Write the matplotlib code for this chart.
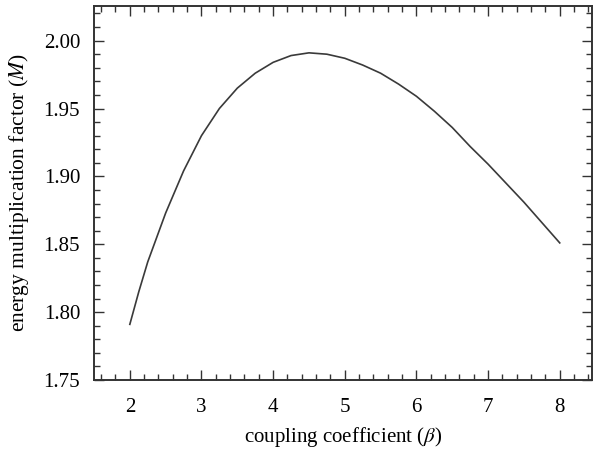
import numpy as np
import matplotlib
matplotlib.use("Agg")
import matplotlib.pyplot as plt
from matplotlib.ticker import MultipleLocator

# values
beta = [2.00, 2.125, 2.25, 2.50, 2.75, 3.00, 3.25, 3.50, 3.75, 4.00, 4.25, 4.50, 4.75,
        5.00, 5.25, 5.50, 5.75, 6.00, 6.25, 6.50, 6.75, 7.00, 7.25, 7.50, 7.75, 8.00]
M = [1.791, 1.815, 1.837, 1.873, 1.904, 1.930, 1.950, 1.965, 1.976, 1.984, 1.989,
     1.991, 1.990, 1.987, 1.982, 1.976, 1.968, 1.959, 1.948, 1.936, 1.922, 1.909,
     1.895, 1.881, 1.866, 1.851]

def main():
    plt.rcParams['font.family'] = ['Liberation Serif', 'DejaVu Serif']
    plt.rcParams['mathtext.fontset'] = 'stix'

    fig = plt.figure(figsize=(6.01, 4.55), dpi=100)
    ax = fig.add_axes([0.1564, 0.1648, 0.985 - 0.1564, 0.9868 - 0.1648])

    ax.plot(beta, M, color='#3a3a3a', lw=1.2, solid_joinstyle='round')

    ax.set_xlim(1.5, 8.45)
    ax.set_ylim(1.75, 2.0255)
    yt = [1.75, 1.80, 1.85, 1.90, 1.95, 2.00]
    ax.set_xticks([2, 3, 4, 5, 6, 7, 8])
    ax.set_yticks(yt)
    ax.set_yticklabels(["%.2f" % v for v in yt])
    ax.xaxis.set_minor_locator(MultipleLocator(0.2))
    ax.yaxis.set_minor_locator(MultipleLocator(0.01))
    ax.tick_params(which='both', direction='in', top=True, right=True, width=1.0, color='#333333')
    ax.tick_params(which='major', length=7, labelsize=15)
    ax.tick_params(which='minor', length=4)
    ax.tick_params(axis='x', which='major', pad=13)
    ax.tick_params(axis='y', which='major', pad=10)
    for s in ax.spines.values():
        s.set_linewidth(1.4)
        s.set_color('#333333')

    ax.set_xlabel(r"coupling coefficient ($\beta$)", fontsize=15, labelpad=6)
    ax.set_ylabel(r"energy multiplication factor ($M$)", fontsize=15.5, labelpad=9)

    fig.savefig("out.png", dpi=100)

if __name__ == "__main__":
    main()
